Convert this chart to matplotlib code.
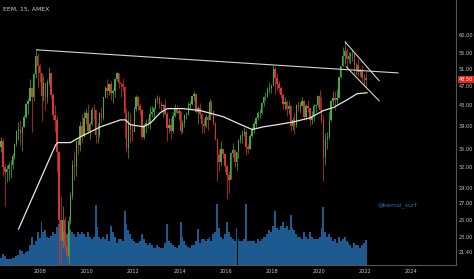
import numpy as np
import matplotlib.pyplot as plt
from matplotlib.ticker import FixedLocator, NullLocator

# monthly EEM candles, Apr 2006 .. Jan 2022
closes = [
    36.3, 32.0, 31.3, 31.7, 32.3, 32.3, 33.8, 35.7, 38.1,
    38.4, 37.7, 38.8, 40.6, 43.3, 43.9, 46.7, 44.7, 49.8, 54.3, 51.7, 50.1,
    44.9, 47.7, 44.8, 48.0, 50.0, 45.2, 41.0, 40.0, 34.5, 24.9, 22.6, 24.9,
    22.0, 21.0, 24.8, 28.0, 32.4, 32.2, 36.2, 35.6, 38.9, 37.1, 40.5, 41.5,
    38.0, 39.4, 42.1, 42.0, 37.3, 37.3, 41.4, 40.4, 44.8, 46.6, 45.9, 47.6,
    45.6, 46.0, 48.7, 50.0, 47.8, 47.6, 46.8, 41.4, 35.1, 39.3, 38.2, 37.9,
    42.3, 44.6, 42.9, 42.1, 36.9, 39.1, 39.6, 39.5, 41.3, 41.7, 42.5, 44.3,
    44.5, 43.3, 42.8, 43.0, 41.3, 38.5, 39.1, 38.1, 40.8, 42.4, 41.5, 41.8,
    38.0, 39.5, 41.0, 41.2, 43.0, 43.2, 45.0, 45.4, 41.6, 42.5, 41.2, 39.3,
    39.0, 40.6, 40.1, 43.6, 41.8, 39.6, 36.6, 33.9, 32.8, 34.9, 34.1, 32.2,
    30.9, 30.2, 34.3, 34.7, 32.8, 34.4, 36.4, 37.1, 37.5, 37.8, 35.3, 35.0,
    37.2, 38.2, 39.4, 40.5, 41.4, 41.4, 43.5, 44.8, 44.8, 46.5, 46.7, 47.1,
    51.1, 48.8, 47.5, 46.6, 45.2, 43.3, 43.6, 42.3, 42.9, 38.9, 40.0, 39.1,
    43.1, 42.6, 42.9, 43.8, 40.6, 42.9, 42.4, 40.1, 40.8, 42.8, 43.0, 44.9,
    42.0, 40.1, 33.7, 36.7, 36.9, 40.0, 43.9, 44.4, 44.0, 44.5, 49.1, 51.7,
    54.4, 55.5, 53.4, 54.3, 54.8, 54.8, 51.9, 52.1, 50.3, 50.8, 48.9, 48.9,
    48.5,
]
highs = [
    37.0, 36.8, 32.5, 32.3, 32.8, 33.2, 34.2, 36.0, 38.3,
    39.7, 40.0, 39.0, 41.0, 43.5, 44.5, 48.6, 46.8, 50.0, 55.8, 55.0, 52.2,
    50.2, 49.3, 47.8, 48.6, 51.6, 50.1, 45.5, 43.0, 41.0, 34.6, 27.9, 26.6,
    25.4, 23.4, 25.4, 28.5, 33.2, 34.6, 36.3, 36.9, 39.8, 41.2, 41.8, 42.2,
    43.2, 39.7, 42.7, 43.2, 42.3, 39.5, 41.6, 42.7, 44.8, 47.0, 48.6, 47.7,
    48.2, 46.4, 48.9, 50.4, 50.2, 47.9, 49.0, 47.0, 42.5, 41.9, 41.5, 39.6,
    42.7, 45.2, 45.0, 43.5, 42.2, 39.4, 40.3, 40.4, 42.8, 42.9, 42.6, 44.5,
    45.2, 45.0, 43.9, 43.3, 44.3, 41.6, 40.4, 40.5, 41.6, 43.3, 43.0, 42.2,
    41.9, 40.0, 41.2, 41.6, 43.6, 43.8, 45.0, 45.9, 45.6, 42.8, 43.5, 41.4,
    40.5, 41.2, 41.0, 44.2, 44.1, 41.8, 39.7, 36.4, 34.9, 36.2, 35.0, 34.2,
    32.3, 31.5, 34.4, 35.9, 34.9, 34.5, 36.7, 37.5, 38.2, 38.8, 38.4, 35.7,
    37.5, 38.8, 39.9, 40.7, 41.9, 42.2, 43.6, 45.0, 45.8, 46.8, 48.0, 47.6,
    52.1, 51.5, 50.2, 48.3, 47.1, 45.6, 44.6, 44.1, 43.8, 43.1, 40.7, 41.4,
    43.3, 43.8, 43.7, 44.7, 44.0, 43.2, 44.0, 42.2, 41.8, 43.2, 43.2, 45.1,
    46.3, 44.7, 41.0, 37.6, 37.8, 41.6, 44.0, 45.9, 46.0, 46.5, 49.2, 51.8,
    56.7, 58.3, 56.4, 55.2, 55.4, 55.9, 55.3, 52.6, 53.4, 51.2, 51.9, 49.8,
    50.6,
]
lows = [
    34.5, 30.8, 26.7, 29.8, 30.2, 30.5, 31.8, 33.3, 35.5,
    36.4, 35.6, 34.6, 38.7, 40.5, 41.3, 43.8, 37.8, 43.8, 48.9, 46.7, 47.9,
    39.8, 43.8, 42.0, 43.5, 47.4, 44.5, 40.0, 37.8, 31.3, 18.2, 20.0, 21.9,
    21.5, 20.5, 19.9, 24.5, 27.6, 30.2, 30.7, 34.1, 34.6, 36.0, 37.0, 39.4,
    37.6, 36.7, 39.2, 40.2, 35.9, 36.0, 36.9, 39.6, 40.0, 44.4, 44.5, 45.1,
    44.1, 43.5, 44.8, 48.2, 46.7, 44.6, 46.0, 36.8, 34.4, 33.4, 36.0, 36.2,
    38.0, 41.9, 42.1, 41.0, 36.7, 36.6, 37.6, 38.5, 38.4, 40.6, 40.0, 42.3,
    43.4, 42.5, 41.6, 40.7, 41.0, 36.2, 37.7, 36.7, 37.6, 40.6, 41.2, 40.0,
    37.5, 37.7, 38.8, 40.3, 41.0, 42.2, 43.1, 43.8, 41.5, 39.4, 40.4, 37.7,
    37.7, 38.6, 38.2, 40.1, 41.0, 39.1, 36.5, 30.0, 31.5, 32.2, 33.5, 31.3,
    27.6, 28.3, 30.3, 33.6, 32.0, 31.6, 33.5, 36.0, 36.0, 37.2, 34.0, 34.2,
    34.9, 36.9, 37.7, 38.7, 40.0, 40.5, 41.2, 42.9, 44.1, 44.8, 45.6, 45.6,
    47.5, 45.3, 46.2, 45.6, 44.4, 42.2, 42.1, 40.8, 41.3, 38.0, 38.2, 37.5,
    38.8, 41.9, 41.5, 43.0, 40.1, 40.1, 41.6, 38.9, 39.4, 39.9, 41.7, 42.6,
    42.0, 39.5, 30.0, 32.4, 34.9, 36.6, 39.9, 43.1, 42.0, 43.3, 44.5, 48.8,
    51.7, 52.2, 51.2, 52.6, 52.3, 53.1, 49.9, 49.5, 49.4, 49.4, 48.2, 47.2,
    46.8,
]
# average daily volume, millions of shares
volumes = [
    13, 19, 15, 11, 11, 11, 13, 13, 15,
    17, 26, 25, 19, 23, 25, 34, 49, 34, 42, 57, 47,
    75, 57, 60, 49, 47, 51, 57, 53, 66, 72, 62, 57,
    57, 53, 60, 62, 57, 53, 49, 57, 53, 57, 53, 49,
    57, 49, 45, 49, 104, 66, 49, 45, 49, 45, 53, 42,
    68, 57, 49, 38, 45, 45, 42, 94, 72, 60, 53, 45,
    42, 38, 38, 42, 53, 45, 38, 34, 38, 34, 30, 30,
    34, 32, 30, 30, 38, 72, 42, 38, 34, 32, 30, 34,
    75, 49, 42, 34, 32, 30, 34, 34, 42, 62, 38, 45,
    45, 42, 45, 49, 42, 53, 57, 106, 64, 49, 45, 53,
    75, 57, 49, 45, 42, 64, 45, 42, 42, 45, 106, 42,
    42, 42, 42, 38, 45, 42, 45, 49, 49, 53, 60, 57,
    68, 94, 64, 60, 68, 75, 64, 68, 60, 87, 64, 60,
    53, 49, 49, 45, 57, 49, 45, 57, 49, 45, 45, 45,
    49, 64, 100, 57, 49, 53, 49, 42, 45, 38, 49, 42,
    45, 49, 42, 38, 34, 30, 38, 34, 34, 30, 34, 38,
    43,
]
first_open = 35.2

# moving average
ma_years = [2007.05, 2008.65, 2008.73, 2009.29, 2009.72, 2010.59, 2011.45, 2011.66,
            2011.88, 2012.44, 2012.74, 2013.17, 2013.47, 2014.16, 2014.9, 2015.89,
            2016.49, 2017.14, 2017.61, 2018.22, 2018.9, 2019.64, 2020.2, 2020.63,
            2021.23, 2021.66, 2022.09]
ma_values = [23.9, 35.6, 36.0, 36.0, 37.0, 38.8, 40.1, 40.1,
             39.2, 38.8, 39.5, 41.5, 42.3, 42.3, 41.9, 40.7,
             39.5, 38.3, 38.8, 39.2, 39.7, 40.5, 41.9, 42.5,
             44.1, 45.4, 45.6]

# drawn trend lines (year, price)
top_line = [(2007.83, 55.9), (2023.43, 50.1)]
chan_upper = [(2021.15, 58.0), (2022.61, 48.3)]
chan_lower = [(2021.19, 51.6), (2022.61, 43.9)]

price_ticks = [60, 55, 51, 47, 43, 39, 35, 32, 29, 27, 25, 23, 21.4]
year_ticks = [2008, 2010, 2012, 2014, 2016, 2018, 2020, 2022, 2024]
last_price = 48.50

# ---- build candles ----
n = len(closes)
x = np.array([2006 + (3 + i + 0.5) / 12 for i in range(n)])
c = np.array(closes)
o = np.array([first_open] + closes[:-1])
h = np.array(highs)
l = np.array(lows)
up = c >= o
green, red = "#3fae3c", "#d8362e"
cols = np.where(up, green, red)

bg = "#000000"
fig = plt.figure(figsize=(4.74, 2.79), dpi=100, facecolor=bg)
rect = [0, 14 / 279, 456 / 474, 265 / 279]

# volume underneath
axv = fig.add_axes(rect, facecolor=bg)
axv.bar(x, volumes, width=1 / 12, color="#1d5a90", linewidth=0)
axv.set_ylim(0, 460)
axv.set_xlim(2006.25, 2025.93)
axv.axis("off")

ax = fig.add_axes(rect)
ax.patch.set_visible(False)
ax.set_yscale("log")
ax.set_ylim(20.15, 70.8)
ax.set_xlim(2006.25, 2025.93)

ax.vlines(x, l, h, colors=cols, linewidth=0.5)
ax.bar(x, np.abs(c - o), bottom=np.minimum(c, o), width=0.06, color=cols, linewidth=0)

ax.plot(ma_years, ma_values, color="#e6e6e6", linewidth=0.9)
for ln in (top_line, chan_upper, chan_lower):
    ax.plot([p[0] for p in ln], [p[1] for p in ln], color="#d4d4d4", linewidth=0.8)

# axes styling
ax.yaxis.tick_right()
ax.yaxis.set_major_locator(FixedLocator(price_ticks))
ax.yaxis.set_minor_locator(NullLocator())
ax.set_yticklabels([f"{t:.2f}" for t in price_ticks])
ax.set_xticks(year_ticks)
ax.set_xticklabels([str(t) for t in year_ticks])
ax.tick_params(axis="both", length=0, colors="#c8c8c8", labelsize=3.6, pad=3)
ax.tick_params(axis="y", pad=2.2)
for s in ("top", "left"):
    ax.spines[s].set_visible(False)
ax.spines["right"].set_color("#555555")
ax.spines["bottom"].set_color("#555555")
ax.spines["right"].set_linewidth(0.8)
ax.spines["bottom"].set_linewidth(0.8)

# last price tag
ax.annotate(f"{last_price:.2f}", xy=(1, last_price), xycoords=("axes fraction", "data"),
            xytext=(1.8, 0), textcoords="offset points", ha="left", va="center",
            fontsize=3.6, color="white",
            bbox=dict(boxstyle="square,pad=0.2", fc="#e0241f", ec="none"))

fig.text(3 / 474, 1 - 9 / 279, "EEM, 15, AMEX", color="#d0d0d0", fontsize=4.4,
         va="center", ha="left")
ax.text(2023.4, 26.8, "@kemal_surf", color="#2b6fb3", fontsize=4.4,
        ha="center", va="center")

fig.savefig("out.png", dpi=100, facecolor=bg)
